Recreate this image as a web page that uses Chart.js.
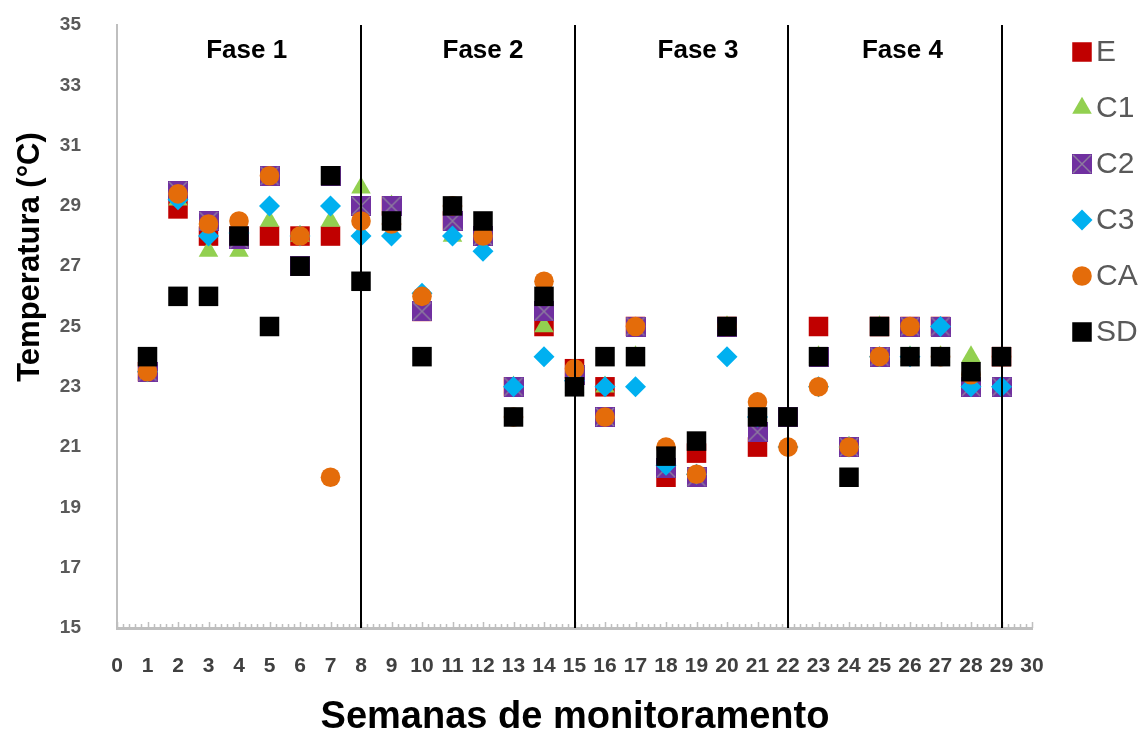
<!DOCTYPE html>
<html>
<head>
<meta charset="utf-8">
<script src="https://cdn.jsdelivr.net/npm/chart.js@4.4.1/dist/chart.umd.min.js"></script>
<style>
  body { margin: 0; background: #fff; }
  canvas { display: block; }
</style>
</head>
<body>
<canvas id="tempChart" width="1140" height="736"></canvas>
<script>
// Semanas de monitoramento (x)
const weeks = [1, 2, 3, 4, 5, 6, 7, 8, 9, 10, 11, 12, 13, 14, 15, 16, 17, 18, 19, 20, 21, 22, 23, 24, 25, 26, 27, 28, 29];

// Temperatura (°C) por tratamento
const serieE  = [23.5, 28.9, 28.0, 28.0, 28.0, 28.0, 28.0, 29.0, 29.0, 25.5, 28.5, 28.0, 23.0, 25.0, 23.6, 23.0, 25.0, 20.0, 20.8, 25.0, 21.0, 22.0, 25.0, 21.0, 25.0, 25.0, 25.0, 23.0, 24.0];
const serieC1 = [23.5, 29.2, 27.5, 27.5, 28.5, 28.0, 28.5, 29.6, 29.0, 25.5, 28.0, 28.0, 23.0, 25.0, 23.0, 23.0, 24.0, 20.3, 19.9, 25.0, 21.5, 22.0, 24.0, 21.0, 25.0, 24.0, 24.0, 24.0, 23.0];
const serieC2 = [23.5, 29.5, 28.5, 27.9, 30.0, 27.0, 30.0, 29.0, 29.0, 25.5, 28.5, 28.0, 23.0, 25.5, 23.4, 22.0, 25.0, 20.3, 20.0, 25.0, 21.5, 22.0, 24.0, 21.0, 24.0, 25.0, 25.0, 23.0, 23.0];
const serieC3 = [23.5, 29.2, 28.0, 28.1, 29.0, 28.0, 29.0, 28.0, 28.0, 26.1, 28.0, 27.5, 23.0, 24.0, 23.2, 23.0, 23.0, 20.4, 20.1, 24.0, 22.0, 21.0, 23.0, 21.0, 24.0, 24.0, 25.0, 23.0, 23.0];
const serieCA = [23.5, 29.4, 28.4, 28.5, 30.0, 28.0, 20.0, 28.5, 28.4, 26.0, 29.0, 28.0, 22.0, 26.5, 23.6, 22.0, 25.0, 21.0, 20.1, 25.0, 22.5, 21.0, 23.0, 21.0, 24.0, 25.0, 24.0, 23.4, 24.0];
const serieSD = [24.0, 26.0, 26.0, 28.0, 25.0, 27.0, 30.0, 26.5, 28.5, 24.0, 29.0, 28.5, 22.0, 26.0, 23.0, 24.0, 24.0, 20.7, 21.2, 25.0, 22.0, 22.0, 24.0, 20.0, 25.0, 24.0, 24.0, 23.5, 24.0];

const seriesNames = ['E', 'C1', 'C2', 'C3', 'CA', 'SD'];
const seriesValues = [serieE, serieC1, serieC2, serieC3, serieCA, serieSD];

// Tick labels and phases
const yTicks = [15, 17, 19, 21, 23, 25, 27, 29, 31, 33, 35];
const phaseBounds = [8, 15, 22, 29];
const phaseLabels = ['Fase 1', 'Fase 2', 'Fase 3', 'Fase 4'];
const phaseLabelAt = [4.25, 12, 19.05, 25.75];

const FONT = '"Liberation Sans", Arial, sans-serif';

// purple square with a grey cross for C2
function squareCross(size, fill, line) {
    const c = document.createElement('canvas');
    c.width = size;
    c.height = size;
    const g = c.getContext('2d');
    g.fillStyle = fill;
    g.fillRect(0, 0, size, size);
    g.strokeStyle = line;
    g.lineWidth = 1.5;
    g.beginPath();
    g.moveTo(1, 1); g.lineTo(size - 1, size - 1);
    g.moveTo(size - 1, 1); g.lineTo(1, size - 1);
    g.stroke();
    return c;
}

const markers = [
    { color: '#C00000', style: 'rect', radius: 13.8 },
    { color: '#92D050', style: 'triangle', radius: 11.3 },
    { color: '#7030A0', style: squareCross(20, '#7030A0', '#8C7C9E'), radius: 10 },
    { color: '#00B0F0', style: 'rectRot', radius: 10.5 },
    { color: '#E46C0A', style: 'circle', radius: 9.8 },
    { color: '#000000', style: 'rect', radius: 13.8 }
];

const datasets = seriesNames.map((name, i) => ({
    label: name,
    data: weeks.map((w, j) => ({ x: w, y: seriesValues[i][j] })),
    pointStyle: markers[i].style,
    pointRadius: markers[i].radius,
    pointHoverRadius: markers[i].radius,
    pointBackgroundColor: markers[i].color,
    pointBorderColor: markers[i].color,
    pointBorderWidth: 0,
    showLine: false,
    order: seriesNames.length - i
}));

const decorations = {
    id: 'decorations',
    afterDatasetsDraw(chart) {
        const ctx = chart.ctx;
        const xs = chart.scales.x;
        const area = chart.chartArea;
        ctx.save();
        // minor ticks on the x axis
        ctx.strokeStyle = '#BFBFBF';
        ctx.lineWidth = 1.5;
        for (let k = 0; k <= 150; k++) {
            const px = Math.round(xs.getPixelForValue(k / 5)) + 0.5;
            const len = k % 5 === 0 ? 6 : 4;
            ctx.beginPath();
            ctx.moveTo(px, area.bottom);
            ctx.lineTo(px, area.bottom - len);
            ctx.stroke();
        }
        // phase separators
        ctx.strokeStyle = '#000000';
        ctx.lineWidth = 2;
        phaseBounds.forEach(b => {
            const px = Math.round(xs.getPixelForValue(b));
            ctx.beginPath();
            ctx.moveTo(px, area.top);
            ctx.lineTo(px, area.bottom);
            ctx.stroke();
        });
        // phase labels
        ctx.fillStyle = '#000000';
        ctx.font = 'bold 26px ' + FONT;
        ctx.textAlign = 'center';
        ctx.textBaseline = 'middle';
        phaseLabels.forEach((t, i) => {
            ctx.fillText(t, xs.getPixelForValue(phaseLabelAt[i]), area.top + 26);
        });
        ctx.restore();
    },
    afterDraw(chart) {
        const ctx = chart.ctx;
        ctx.save();
        // axis titles
        ctx.fillStyle = '#000000';
        ctx.font = 'bold 38px ' + FONT;
        ctx.textAlign = 'center';
        ctx.textBaseline = 'middle';
        ctx.fillText('Semanas de monitoramento', 575, 718);
        ctx.translate(30, 257);
        ctx.rotate(-Math.PI / 2);
        ctx.font = 'bold 31px ' + FONT;
        ctx.fillText('Temperatura (°C)', 0, 0);
        ctx.restore();

        // legend
        ctx.save();
        ctx.font = '30px ' + FONT;
        ctx.textAlign = 'left';
        ctx.textBaseline = 'middle';
        seriesNames.forEach((name, i) => {
            const y = 52 + i * 56;
            ctx.fillStyle = markers[i].color;
            ctx.strokeStyle = markers[i].color;
            Chart.helpers.drawPoint(ctx, {
                pointStyle: markers[i].style,
                radius: markers[i].radius,
                rotation: 0,
                borderWidth: 0
            }, 1082, y);
            ctx.fillStyle = '#595959';
            ctx.fillText(name, 1096, y + 1);
        });
        ctx.restore();
    }
};

new Chart(document.getElementById('tempChart'), {
    type: 'scatter',
    data: { datasets: datasets },
    options: {
        responsive: false,
        animation: false,
        layout: { padding: { top: 25, right: 108, bottom: 0, left: 0 } },
        plugins: {
            legend: { display: false },
            tooltip: { enabled: false }
        },
        scales: {
            x: {
                type: 'linear',
                min: 0,
                max: 30,
                grid: { display: false },
                border: { display: true, color: '#BFBFBF', width: 3 },
                ticks: {
                    stepSize: 1,
                    autoSkip: false,
                    maxRotation: 0,
                    padding: 18,
                    color: '#404040',
                    font: { family: FONT, size: 21, weight: 'bold' }
                },
                afterFit: s => { s.height = 108; }
            },
            y: {
                type: 'linear',
                min: 15,
                max: 35,
                grid: { display: false },
                border: { display: true, color: '#BFBFBF', width: 2 },
                afterBuildTicks: s => { s.ticks = yTicks.map(v => ({ value: v })); },
                ticks: {
                    padding: 28,
                    color: '#595959',
                    font: { family: FONT, size: 19, weight: 'bold' }
                },
                afterFit: s => {
                    s.width = 117;
                    // keep the tick padding from pushing the plot down
                    s.paddingTop = 0;
                    s.paddingBottom = 0;
                }
            }
        }
    },
    plugins: [decorations]
});
</script>
</body>
</html>
